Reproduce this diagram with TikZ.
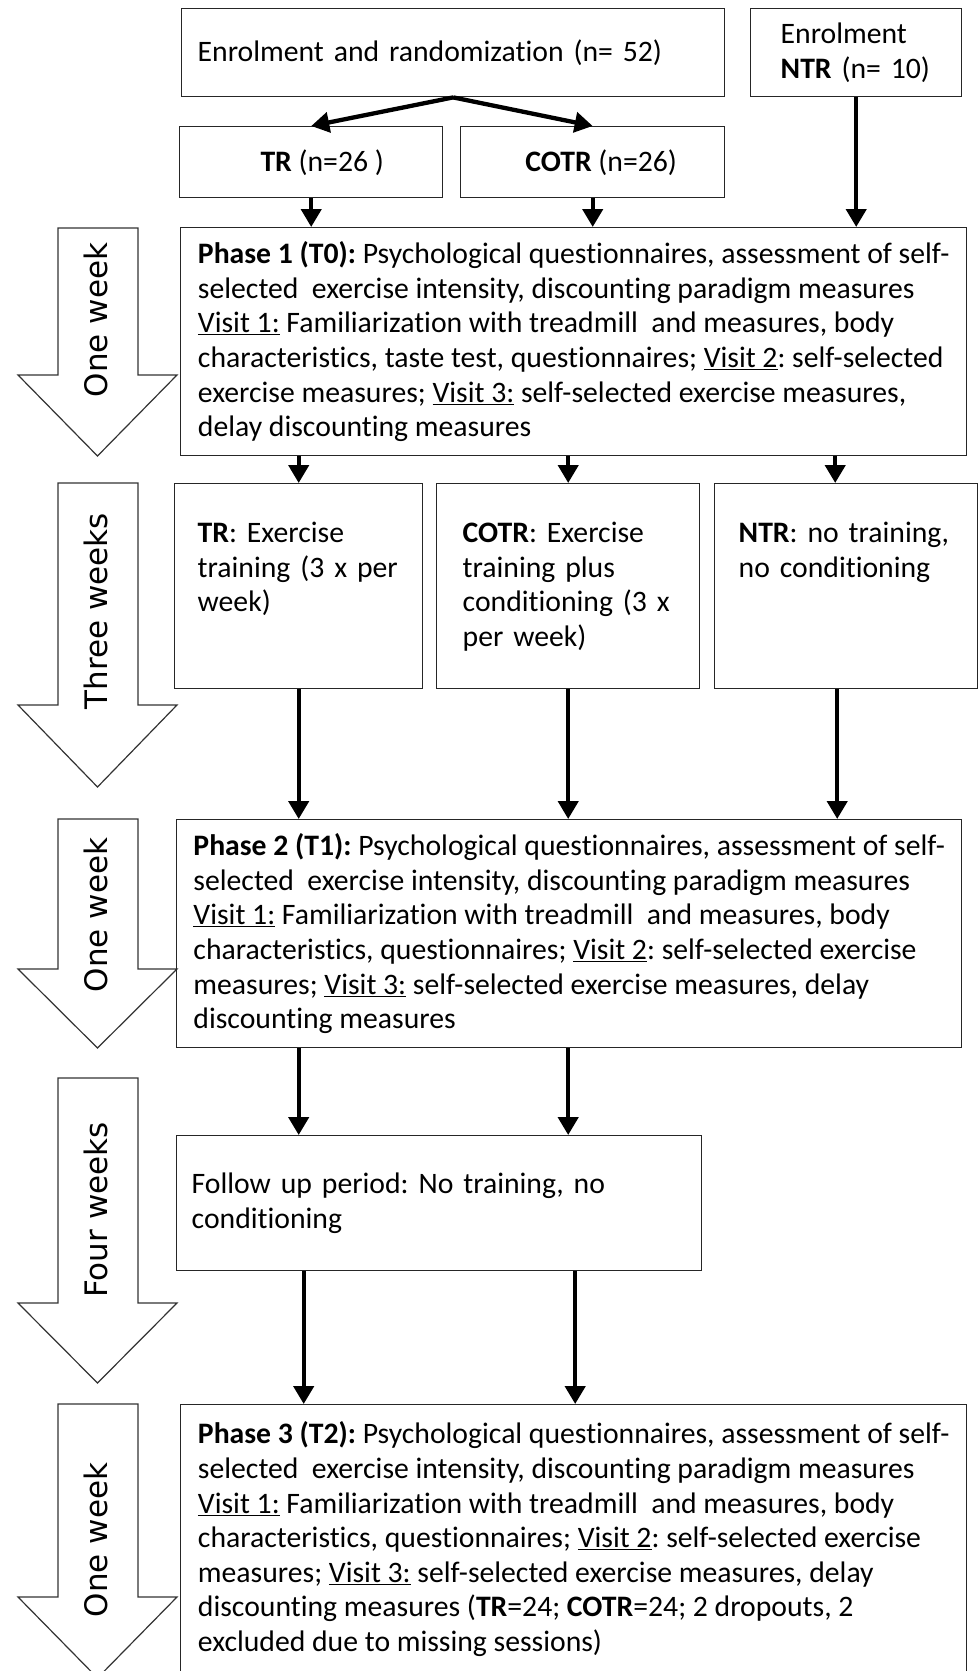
\documentclass[tikz,border=0pt]{standalone}
\usepackage{fontspec}
\setmainfont{Carlito}[Ligatures=NoCommon]
\newfontfamily\weekfont{DejaVu Sans}
\usetikzlibrary{arrows.meta}
\frenchspacing
\tikzstyle{box} = [rectangle, draw=black!85, line width=1.4pt, anchor=north west, align=left, inner ysep=0pt, font=\fontsize{29.7}{34.6}\selectfont]
\tikzstyle{phase} = [box, inner xsep=0pt, minimum width=786pt, minimum height=228pt]
\tikzstyle{groupbox} = [box, minimum width=263pt, text height=59pt, text depth=146pt]
\tikzstyle{edge} = [line width=4.3pt, -{Triangle[width=20pt,length=18pt]}]
\tikzstyle{weekarrow} = [draw=black!80, line width=1.2pt, fill=white]
\tikzstyle{weeklabel} = [rotate=90, inner sep=0pt, font=\weekfont\fontsize{31}{37}\selectfont]

\begin{document}
\begin{tikzpicture}[x=1pt, y=-1pt]
\useasboundingbox (0,0) rectangle (980,1671);

% time arrows on the left
\foreach \ya/\yb/\yc/\yl/\lab [count=\i] in {228/375/456/320/One week, 483/705/787/611/Three weeks, 819/969/1048/915/One week, 1078/1303/1383/1210/Four weeks, 1404/1597/1678/1540/One week}
{
  \draw [weekarrow] (58,\ya) -- (138,\ya) -- (138,\yb) -- (177,\yb) -- (97.5,\yc) -- (18,\yb) -- (58,\yb) -- cycle;
  \node (wk\i) [weeklabel] at (96,\yl) {\lab};
}

\node (enrol) [box, text width=511pt, inner xsep=16pt, minimum height=88pt] at (181,8) {Enrolment and randomization (n= 52)};
\node (ntrenrol) [box, text width=151pt, inner xsep=30pt, minimum height=88pt] at (750,8) {Enrolment\\\textbf{NTR} (n= 10)};
\node (tr) [box, align=center, minimum width=263pt, minimum height=71pt] at (179,126) {\hspace*{22pt}\textbf{TR} (n=26 )};
\node (cotr) [box, align=center, minimum width=264pt, minimum height=71pt] at (460,126) {\hspace*{17pt}\textbf{COTR} (n=26)};

\node (phase1) [phase] at (180,227) {\textbf{Phase 1 (T0):} Psychological questionnaires, assessment of self-\\
selected~ exercise intensity, discounting paradigm measures\\
\underline{Visit 1:} Familiarization with treadmill~ and measures, body\\
characteristics, taste test, questionnaires; \underline{Visit 2}: self-selected\\
exercise measures; \underline{Visit 3:} self-selected exercise measures,\\
delay discounting measures};

\node (trw) [groupbox, minimum width=248pt, text width=202pt, inner xsep=23pt] at (174,483) {\textbf{TR}: Exercise\\training (3 x per\\week)};
\node (cotrw) [groupbox, text width=211pt, inner xsep=26pt] at (436,483) {\textbf{COTR}: Exercise\\training plus\\conditioning (3 x\\per week)};
\node (ntrw) [groupbox, text width=215pt, inner xsep=24pt] at (714,483) {\textbf{NTR}: no training,\\no conditioning};

\node (phase2) [phase, minimum width=785pt] at (176,819) {\textbf{Phase 2 (T1):} Psychological questionnaires, assessment of self-\\
selected~ exercise intensity, discounting paradigm measures\\
\underline{Visit 1:} Familiarization with treadmill~ and measures, body\\
characteristics, questionnaires; \underline{Visit 2}: self-selected exercise\\
measures; \underline{Visit 3:} self-selected exercise measures, delay\\
discounting measures};

\node (followup) [box, text width=495pt, inner xsep=15pt, minimum height=135pt] at (176,1135) {Follow up period: No training, no\\conditioning};

\node (phase3) [phase, minimum height=269pt] at (180,1404) {\textbf{Phase 3 (T2):} Psychological questionnaires, assessment of self-\\
selected~ exercise intensity, discounting paradigm measures\\
\underline{Visit 1:} Familiarization with treadmill~ and measures, body\\
characteristics, questionnaires; \underline{Visit 2}: self-selected exercise\\
measures; \underline{Visit 3:} self-selected exercise measures, delay\\
discounting measures (\textbf{TR}=24; \textbf{COTR}=24; 2 dropouts, 2\\
excluded due to missing sessions)};

\coordinate (ntrin) at ([xshift=-11pt]ntrw.north);
\coordinate (ntrout) at ([xshift=-9pt]ntrw.south);
\coordinate (trdown) at ([xshift=5pt]trw.south);
\coordinate (cotrdown) at ([xshift=7pt]cotrw.south);

\draw [edge] (enrol.south) -- (tr.north);
\draw [edge] (enrol.south) -- (cotr.north);
\draw [edge] (tr.south) -- (tr.south |- phase1.north);
\draw [edge] (cotr.south) -- (cotr.south |- phase1.north);
\draw [edge] (ntrenrol.south) -- (ntrenrol.south |- phase1.north);
\draw [edge] (trw.north |- phase1.south) -- (trw.north);
\draw [edge] (cotrw.north |- phase1.south) -- (cotrw.north);
\draw [edge] (ntrin |- phase1.south) -- (ntrin);
\draw [edge] (trw.south) -- (trw.south |- phase2.north);
\draw [edge] (cotrw.south) -- (cotrw.south |- phase2.north);
\draw [edge] (ntrout) -- (ntrout |- phase2.north);
\draw [edge] (trw.south |- phase2.south) -- (trw.south |- followup.north);
\draw [edge] (cotrw.south |- phase2.south) -- (cotrw.south |- followup.north);
\draw [edge] (trdown |- followup.south) -- (trdown |- phase3.north);
\draw [edge] (cotrdown |- followup.south) -- (cotrdown |- phase3.north);

\end{tikzpicture}
\end{document}
